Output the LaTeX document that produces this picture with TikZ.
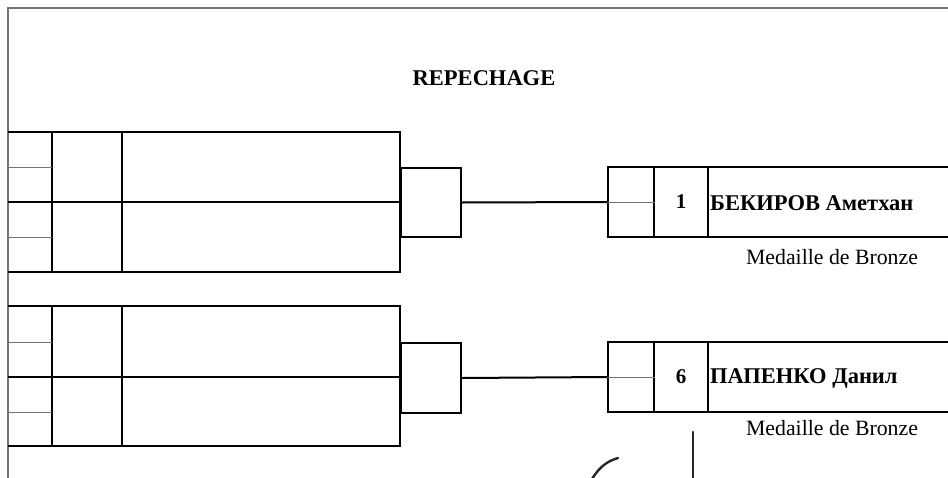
\documentclass[tikz,border=0pt]{standalone}
\usepackage{fontspec}
\setmainfont{Liberation Serif}
\begin{document}
\begin{tikzpicture}[x=1pt,y=-1pt,
  frameline/.style={draw=black!55, line width=2pt},
  boxline/.style={draw=black, line width=2pt},
  thinline/.style={draw=black!55, line width=0.8pt},
  cell/.style={boxline, rectangle, inner sep=0pt, anchor=north west},
  titletext/.style={font=\fontsize{22.5}{26}\selectfont\bfseries},
  nametext/.style={font=\fontsize{22.5}{26}\selectfont\bfseries, anchor=west, inner sep=0pt},
  seedtext/.style={font=\fontsize{21}{25}\selectfont\bfseries, inner sep=0pt},
  medaltext/.style={font=\fontsize{21.8}{26}\selectfont, inner sep=0pt},
  signline/.style={draw=black!85, line width=2.4pt, line cap=round}]
\useasboundingbox (0,0) rectangle (948,477);
\fill[white] (0,0) rectangle (948,477);
% frame
\draw[frameline] (8,479) -- (8,8) -- (950,8);
% title
\node[titletext] (title) at (484,78) {REPECHAGE};
% left block 1
\draw[boxline] (8,132) -- (400,132) -- (400,272) -- (8,272);
\draw[boxline] (8,202) -- (400,202);
\draw[boxline] (52,132) -- (52,272);
\draw[boxline] (122,132) -- (122,272);
\draw[thinline] (8,167) -- (52,167);
\draw[thinline] (8,237) -- (52,237);
\node[cell, minimum width=60pt, minimum height=69pt] (w1) at (400,167) {};
% left block 2
\draw[boxline] (8,306) -- (400,306) -- (400,446) -- (8,446);
\draw[boxline] (8,377) -- (400,377);
\draw[boxline] (52,306) -- (52,446);
\draw[boxline] (122,306) -- (122,446);
\draw[thinline] (8,342) -- (52,342);
\draw[thinline] (8,412) -- (52,412);
\node[cell, minimum width=60pt, minimum height=70pt] (w2) at (400,342) {};
% right box 1
\node[cell, minimum width=46pt, minimum height=70pt] (r1) at (607,166) {};
\node[cell, minimum width=54pt, minimum height=70pt] (s1) at (653,166) {};
\node[cell, minimum width=260pt, minimum height=70pt] (n1) at (707,166) {};
\draw[thinline] (r1.west) -- (r1.east);
\node[seedtext] (seed1) at (s1.center) {1};
\node[nametext] (name1) at (710,203) {БЕКИРОВ Аметхан};
\node[medaltext] (medal1) at (832,257) {Medaille de Bronze};
% right box 2
\node[cell, minimum width=46pt, minimum height=70pt] (r2) at (607,341) {};
\node[cell, minimum width=54pt, minimum height=70pt] (s2) at (653,341) {};
\node[cell, minimum width=260pt, minimum height=70pt] (n2) at (707,341) {};
\draw[thinline] (r2.west) -- (r2.east);
\node[seedtext] (seed2) at (s2.center) {6};
\node[nametext] (name2) at (710,378) {ПАПЕНКО Данил};
\node[medaltext] (medal2) at (832,428) {Medaille de Bronze};
% connectors
\draw[boxline] (w1.east) -- (r1.west);
\draw[boxline] (w2.east) -- (r2.west);
% signature strokes
\draw[signline] (592,479) .. controls (600,466) and (608,461) .. (618,458);
\draw[signline] (693,432) -- (693,479);
\end{tikzpicture}
\end{document}
